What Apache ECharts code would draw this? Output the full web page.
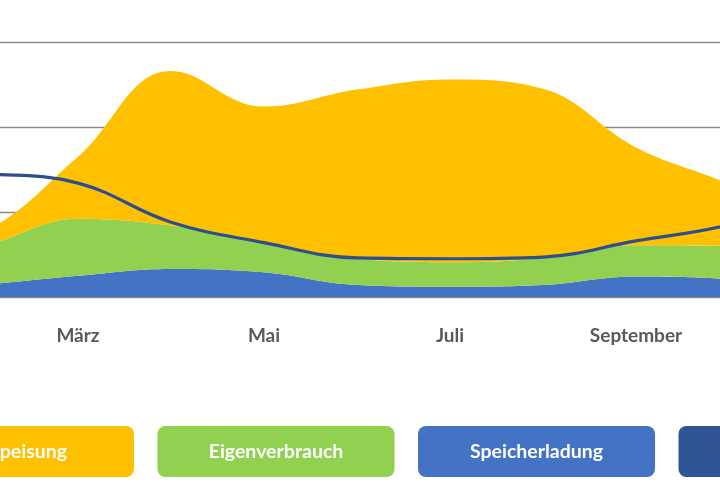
<!DOCTYPE html>
<html>
<head>
<meta charset="utf-8">
<script src="https://cdn.jsdelivr.net/npm/echarts@6.0.0/dist/echarts.min.js"></script>
<style>
  html, body { margin: 0; padding: 0; background: #fff; }
  #grafico { width: 720px; height: 500px; }
</style>
</head>
<body>
<div id="grafico"></div>
<script>
// Monate (Kategorien) - das Bild zeigt nur den Ausschnitt Feb..Okt
let monate = ["Januar", "Februar", "März", "April", "Mai", "Juni", "Juli", "August", "September", "Oktober", "November", "Dezember"];

// gestapelte Flaechen (unten -> oben)
let speicherladung = [0.10, 0.15, 0.25, 0.33, 0.29, 0.14, 0.12, 0.14, 0.24, 0.21, 0.12, 0.08];
let eigenverbrauch = [0.35, 0.46, 0.67, 0.51, 0.35, 0.31, 0.29, 0.32, 0.37, 0.39, 0.38, 0.33];
let einspeisung = [0.05, 0.16, 0.73, 1.82, 1.60, 1.99, 2.15, 1.99, 1.15, 0.73, 0.30, 0.08];
// Linie
let netzbezug = [1.50, 1.45, 1.34, 0.88, 0.64, 0.46, 0.45, 0.47, 0.66, 0.85, 1.20, 1.45];

let legendeNamen = ["Einspeisung", "Eigenverbrauch", "Speicherladung", "Netzbezug"];
let farben = ["#FFC000", "#92D050", "#4472C4", "#2F5597"];

var grafico = document.getElementById('grafico');
var myChart = echarts.init(grafico);

// Legende als abgerundete Kaesten unter dem Diagramm
let legendeElemente = [];
legendeNamen.forEach((name, i) => {
    let x = -103 + i * 260.5;
    legendeElemente.push({
        type: 'rect',
        shape: { x: x, y: 426, width: 237, height: 51, r: 8 },
        style: { fill: farben[i] },
        silent: true
    });
    legendeElemente.push({
        type: 'text',
        style: {
            text: name,
            x: x + 118.5,
            y: 452,
            fill: '#ffffff',
            font: 'bold 19.5px Lato',
            textAlign: 'center',
            textVerticalAlign: 'middle'
        },
        silent: true
    });
});

var options = {
    animation: false,
    grid: {
        left: -108,
        right: -195,
        top: 42,
        bottom: 203,
        containLabel: false,
        outerBoundsMode: 'none'
    },
    xAxis: {
        type: 'category',
        data: monate,
        boundaryGap: false,
        axisLine: { show: false },
        axisTick: { show: false },
        axisLabel: {
            interval: 1,
            margin: 29,
            color: '#595959',
            fontFamily: 'Lato',
            fontWeight: 'bold',
            fontSize: 19
        }
    },
    yAxis: {
        type: 'value',
        min: 0,
        max: 3,
        interval: 1,
        axisLine: { show: false },
        axisTick: { show: false },
        axisLabel: { show: false },
        splitLine: { lineStyle: { color: '#8a8a8a', width: 1.3 } }
    },
    series: [
        {
            name: 'Speicherladung',
            type: 'line',
            stack: 'energie',
            data: speicherladung,
            smooth: 0.4,
            showSymbol: false,
            lineStyle: { width: 0 },
            areaStyle: { color: farben[2], opacity: 1 }
        },
        {
            name: 'Eigenverbrauch',
            type: 'line',
            stack: 'energie',
            data: eigenverbrauch,
            smooth: 0.4,
            showSymbol: false,
            lineStyle: { width: 0 },
            areaStyle: { color: farben[1], opacity: 1 }
        },
        {
            name: 'Einspeisung',
            type: 'line',
            stack: 'energie',
            data: einspeisung,
            smooth: 0.4,
            showSymbol: false,
            lineStyle: { width: 0 },
            areaStyle: { color: farben[0], opacity: 1 }
        },
        {
            name: 'Netzbezug',
            type: 'line',
            data: netzbezug,
            smooth: 0.4,
            showSymbol: false,
            z: 5,
            lineStyle: { color: '#2E4F8E', width: 3.2 }
        }
    ],
    graphic: legendeElemente
};
myChart.setOption(options);
</script>
</body>
</html>
